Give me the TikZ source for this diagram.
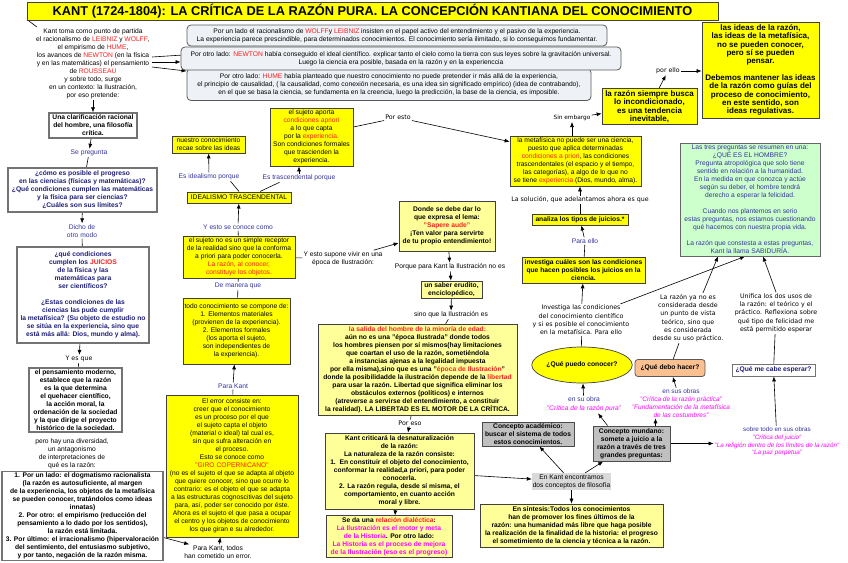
\documentclass[tikz,border=0pt]{standalone}
\usepackage{fontspec}
\setmainfont{Liberation Sans}
\newfontfamily\vfam{DejaVu Sans}
\usetikzlibrary{arrows.meta,shapes.geometric,backgrounds}
\definecolor{kred}{RGB}{255,30,30}
\definecolor{kblue}{RGB}{51,51,160}
\definecolor{knavy}{RGB}{30,30,120}
\definecolor{kmag}{RGB}{255,0,255}
\definecolor{kyel}{RGB}{255,255,0}
\definecolor{klyel}{RGB}{255,255,153}
\definecolor{kgrey}{RGB}{238,242,246}
\definecolor{kgreen}{RGB}{204,255,204}
\definecolor{kpeach}{RGB}{250,192,143}
\definecolor{kconc}{RGB}{192,192,192}
\definecolor{kbg}{RGB}{217,217,217}
\newcommand{\fs}{\fontsize{6.7}{8}\selectfont}
\newcommand{\fbig}{\fontsize{8}{8.4}\selectfont\bfseries}
\newcommand{\vs}{\vfam\fontsize{6.3}{8.3}\selectfont}
\newcommand{\kr}[1]{\textcolor{kred}{#1}}
\newcommand{\km}[1]{\textcolor{kmag}{#1}}
\begin{document}
\begin{tikzpicture}[x=1pt,y=-1pt,
 every node/.style={align=center, inner sep=1pt, font=\fs},
 box/.style={draw=black!75, line width=0.7pt, inner sep=1.5pt},
 ybox/.style={box, fill=kyel},
 lbox/.style={box, fill=klyel, font=\fs\bfseries},
 wbox/.style={draw=black!55, line width=1.2pt, fill=white, font=\fs\bfseries, inner sep=1.5pt},
 gbox/.style={draw=black!65, line width=0.8pt, fill=kgrey, rounded corners=4pt},
 cbox/.style={draw=black!70, line width=0.9pt, fill=kconc, font=\fs\bfseries},
 lab/.style={text=kblue},
 vtxt/.style={font=\vs},
 arr/.style={-{Latex[length=5pt,width=4pt]}, line width=0.6pt},
 con/.style={line width=0.6pt}]
\useasboundingbox (0,0) rectangle (848,562);

% title
\node[ybox, minimum width=691pt, minimum height=18pt, font=\fontsize{12.8}{14}\selectfont\bfseries] (title) at (372.5,11.5) {KANT (1724-1804): LA CRÍTICA DE LA RAZÓN PURA. LA CONCEPCIÓN KANTIANA DEL CONOCIMIENTO};
\coordinate (tk) at (37,27);

% left column
\node (kant) at (93,64) {Kant toma como punto de partida\\el racionalismo de \kr{LEIBNIZ} y \kr{WOLFF},\\el empirismo de \kr{HUME},\\los avances de \kr{NEWTON} (en la física\\y en las matemáticas) el pensamiento\\de \kr{ROUSSEAU}\\y sobre todo, surge\\en un contexto: la Ilustración,\\por eso pretende:};
\coordinate (k1) at (152,57);
\coordinate (k2) at (152,62);
\coordinate (k3) at (152,67);

\node[gbox, minimum width=420pt, minimum height=21pt] (g1) at (397,35.5) {Por un lado el racionalismo de \kr{WOLFF}y \kr{LEIBNIZ} insisten en el papel activo del entendimiento y el pasivo de la experiencia.\\La experiencia parece prescindible, para determinados conocimientos. El conocimiento sería ilimitado, si lo conseguimos fundamentar.};
\node[gbox, minimum width=404pt, minimum height=32pt] (g3) at (389,84.5) {\rule{0pt}{5pt}Por otro lado: \kr{HUME} había planteado que nuestro conocimiento no puede pretender ir más allá de la experiencia,\\el principio de causalidad, ( la causalidad, como conexión necesaria, es una idea sin significado empírico) (idea de contrabando),\\en el que se basa la ciencia, se fundamenta en la creencia, luego la predicción, la base de la ciencia, es imposible.};
\node[gbox, minimum width=440pt, minimum height=23pt] (g2) at (401,58.5) {Por otro lado: \kr{NEWTON} había conseguido el ideal científico. explicar tanto el cielo como la tierra con sus leyes sobre la gravitación universal.\\Luego la ciencia era posible, basada en la razón y en la experienccia};

\node[wbox, minimum width=88pt, minimum height=25pt] (clar) at (93,125.5) {Una clarificación racional\\del hombre, una filosofía\\crítica.};
\node[lab] (sep) at (89,153) {Se pregunta};
\node[wbox, text=knavy, minimum width=149pt, minimum height=44pt] (q1) at (82.5,190) {¿cómo es posible el progreso\\en las ciencias (físicas y matemáticas)?\\¿Qué condiciones cumplen las matemáticas\\y la física para ser ciencias?\\¿Cuáles son sus límites?};
\node[lab] (dicho) at (82,231) {Dicho de\\otro modo};
\node[wbox, text=knavy, minimum width=132pt, minimum height=96pt] (q2) at (83,295) {¿qué condiciones\\cumplen los \kr{JUICIOS}\\de la física y las\\matemáticas para\\ser científicos?\\[8pt]¿Estas condiciones de las\\ciencias las pude cumplir\\la metafísica? (Su objeto de estudio no\\se sitúa en la experiencia, sino que\\está más allá: Dios, mundo y alma).};
\node[vtxt] (yes) at (79,359) {Y es que};
\node[wbox, minimum width=93pt, minimum height=64pt] (pens) at (75.5,400) {el pensamiento moderno,\\establece que la razón\\es la que determina\\el quehacer científico,\\la acción moral, la\\ordenación de la sociedad\\y la que dirige el proyecto\\histórico de la sociedad.};
\node (pero) at (72,454) {pero hay una diversidad,\\un antagonismo\\de interpretaciones de\\qué es la razón:};
\node[wbox, minimum width=161pt, minimum height=88pt] (tres) at (82.5,516) {1. Por un lado: el dogmatismo racionalista\\(la razón es autosuficiente, al margen\\de la experiencia, los objetos de la metafísica\\se pueden conocer, tratándolos como ideas\\innatas)\\2. Por otro: el empirismo (reducción del\\pensamiento a lo dado por los sentidos),\\la razón está limitada.\\3. Por último: el irracionalismo (hipervaloración\\del sentimiento, del entusiasmo subjetivo,\\y por tanto, negación de la razón misma.};
\node (todos) at (218,552) {Para Kant, todos\\han cometido un error.};

% second column
\node[ybox, minimum width=132pt, minimum height=142pt] (error) at (232,466) {El error consiste en:\\creer que el conocimiento\\es un proceso por el que\\el sujeto capta el objeto\\(material o ideal) tal cual es,\\sin que sufra alteración en\\el proceso.\\Esto se conoce como\\\kr{"GIRO COPERNICANO"}\\(no es el sujeto el que se adapta al objeto\\que quiere conocer, sino que ocurre lo\\contrario: es el objeto el que se adapta\\a las estructuras cognoscitivas del sujeto\\para, así, poder ser conocido por éste.\\Ahora es el sujeto el que pasa a ocupar\\el centro y los objetos de conocimiento\\los que giran e su alrededor.};
\node[lab] (parak) at (233,386) {Para Kant};
\node[ybox, minimum width=107pt, minimum height=66pt] (todo) at (236.5,331) {todo conocimiento se compone de:\\1. Elementos materiales\\(provienen de la experiencia).\\2. Elementos formales\\(los aporta el sujeto,\\son independientes de\\la experiencia).};
\node[lab] (demanera) at (238,286) {De manera que};
\node[ybox, minimum width=112pt, minimum height=42pt] (sujeto) at (239,257) {el sujeto no es un simple receptor\\de la realidad sino que la conforma\\a priori para poder conocerla.\\\kr{La razón, al conocer,}\\\kr{constituye los objetos.}};
\node[lab] (yesto) at (238,227) {Y esto se conoce como};
\node[ybox, line width=1pt, minimum width=104pt, minimum height=11pt, inner sep=0.5pt] (ideal) at (239,197.5) {IDEALISMO TRASCENDENTAL};
\node[lab] (esideal) at (209,177) {Es idealismo porque};
\node[lab] (estrasc) at (299,178) {Es trascendental porque};
\node[ybox, minimum width=73pt, minimum height=17pt, inner sep=0.5pt] (nuestro) at (208.5,144.5) {nuestro conocimiento\\recae sobre las ideas};
\node[ybox, minimum width=83pt, minimum height=58pt] (aporta) at (311.5,137) {el sujeto aporta\\\kr{condiciones apriori}\\a lo que capta\\por la \kr{experiencia.}\\Son condiciones formales\\que trascienden la\\experiencia.};
\node[vtxt] (poresto) at (398,117) {Por esto};

% middle column
\node (yestosup) at (343,258.5) {Y esto supone vivir en una\\época de Ilustración:};
\node[lbox, minimum width=96pt, minimum height=50pt] (donde) at (447,226) {Donde se debe dar lo\\que expresa el lema:\\\kr{"Sapere aude"}\\¡Ten valor para servirte\\de tu propio entendimiento!};
\node (porque) at (450,267) {Porque para Kant la Ilustración no es};
\node[lbox, minimum width=61pt, minimum height=17pt, inner sep=0.5pt] (erudito) at (451.5,289.5) {un saber erudito,\\enciclopédico,};
\node (sinoque) at (451,315) {sino que la Ilustración es};
\node[lbox, minimum width=199pt, minimum height=91pt] (salida) at (417.5,369.5) {\kr{la salida del hombre de la minoría de edad:}\\aún no es una "época Ilustrada" donde todos\\los hombres piensen por sí mismos(hay limitaciones\\que coartan el uso de la razón, sometiéndola\\a instancias ajenas a la legalidad impuesta\\por ella misma),sino que es una "\kr{época de Ilustración}"\\donde la posibilidadde la ilustración depende de la \kr{libertad}\\para usar la razón. Libertad que significa eliminar los\\obstáculos externos (políticos) e internos\\(atreverse a servirse del entendimiento, a constituir\\la realidad). LA LIBERTAD ES EL MOTOR DE LA CRÍTICA.};
\node[vtxt] (poreso) at (410,423) {Por eso};
\node[lbox, minimum width=149pt, minimum height=76pt] (criticara) at (399.5,471) {Kant criticará la desnaturalización\\de la razón:\\La naturaleza de la razón consiste:\\1.\ \ En constituir el objeto del conocimiento,\\conformar la realidad,a priori, para poder\\conocerla.\\2. La razón regula, desde sí misma, el\\comportamiento, en cuanto acción\\moral y libre.};
\node[lbox, minimum width=126pt, minimum height=41pt] (dialectica) at (389,536.5) {Se da una \kr{relación dialéctica}:\\\km{La Ilustración es el motor y meta}\\\km{de la Historia}. Por otro lado:\\\km{La Historia es el proceso de mejora}\\\km{de la Ilustración (eso es el progreso)}};

% right middle
\node[ybox, minimum width=131pt, minimum height=50pt] (meta) at (575.5,161) {la metafísica no puede ser una ciencia,\\puesto que aplica determinadas\\\kr{condiciones a priori}, las condiciones\\trascendentales (el espacio y el tiempo,\\las categorías), a algo de lo que no\\se tiene \kr{experiencia} (Dios, mundo, alma).};
\node[vtxt, font=\vfam\fontsize{5.8}{7}\selectfont] (sinemb) at (572,118) {Sin embargo};
\node[ybox, font=\fbig, minimum width=95pt, minimum height=35pt] (busca) at (649.5,106.5) {la razón siempre busca\\lo incondicionado,\\es una tendencia\\inevitable,};
\node[vtxt] (porello) at (668,71) {por ello};
\node[ybox, font=\fbig, minimum width=117pt, minimum height=96pt] (ideas) at (760.5,70) {las ideas de la razón,\\las ideas de la metafísica,\\no se pueden conocer,\\pero sí se pueden\\pensar.\\[8pt]Debemos mantener las ideas\\de la razón como guías del\\proceso de conocimiento,\\en este sentido, son\\ideas regulativas.};
\node[vtxt] (sol) at (580,200) {La solución, que adelantamos ahora es que};
\node[ybox, font=\fs\bfseries, minimum width=96pt, minimum height=11pt, inner sep=0.5pt] (analiza) at (580,219.5) {analiza los tipos de juicios.*};
\node[lab] (paraello) at (585,241) {Para ello};
\node[ybox, font=\fs\bfseries, minimum width=123pt, minimum height=26pt] (investiga) at (583.5,270) {investiga cuáles son las condiciones\\que hacen posibles los juicios en la\\ciencia.};
\node[vtxt] (invtext) at (581,320) {Investiga las condiciones\\del conocimiento científico\\y si es posible el conocimiento\\en la metafísica. Para ello};
\node[ellipse, draw=black!75, line width=0.7pt, fill=kyel, font=\fs\bfseries, minimum width=85pt, minimum height=36pt, inner sep=0pt] (puedo) at (582,365) {¿Qué puedo conocer?};
\node[font=\fontsize{6.7}{9}\selectfont] (ensuobra) at (584,404.5) {\textcolor{kblue}{en su obra}\\\textcolor{kmag}{\itshape "Crítica de la razón pura"}};

% right column
\node[draw=black!60, line width=0.8pt, fill=kgreen, text=kblue, minimum width=140pt, minimum height=113pt] (green) at (750,199.5) {Las tres preguntas se resumen en una:\\¿QUÉ ES EL HOMBRE?\\Pregunta atropológica que solo tiene\\sentido en relación a la humanidad.\\En la medida en que conozca y actúe\\según su deber, el hombre tendrá\\derecho a esperar la felicidad.\\[8pt]Cuando nos plantemos en serio\\estas preguntas, nos estamos cuestionando\\qué hacemos con nuestra propia vida.\\[8pt]La razón que constesta a estas preguntas,\\Kant la llama SABIDURÍA.};
\node[vtxt] (razonya) at (688,318) {La razón ya no es\\considerada desde\\un punto de vista\\teórico, sino que\\es considerada\\desde su uso práctico.};
\node[vtxt] (unifica) at (776,313) {Unifica los dos usos de\\la razón: el teórico y el\\práctico. Reflexiona sobre\\qué tipo de felicidad me\\está permitido esperar};
\node[draw=black!65, line width=0.8pt, fill=kpeach, rounded corners=3pt, font=\fs\bfseries, minimum width=70pt, minimum height=17pt] (debo) at (670,368) {¿Qué debo hacer?};
\node[draw=black!55, line width=0.8pt, fill=white, text=knavy, font=\fs\bfseries, minimum width=83pt, minimum height=12pt, inner sep=0.5pt] (cabe) at (773.5,370) {¿Qué me cabe esperar?};
\node[font=\fontsize{6.5}{7.8}\selectfont] (ensusobras) at (681,403) {\textcolor{kblue}{en sus obras}\\\textcolor{kmag}{\itshape "Crítica de la razón práctica"}\\\textcolor{kmag}{\itshape "Fundamentación de la metafísica}\\\textcolor{kmag}{\itshape de las costumbres"}};
\node[font=\fontsize{6.3}{7.8}\selectfont] (sobretodo) at (777,441.5) {\textcolor{kblue}{sobre todo en sus obras}\\\textcolor{kmag}{\itshape "Crítica del juicio"}\\\textcolor{kmag}{\itshape "La religión dentro de los límites de la razón"}\\\textcolor{kmag}{\itshape "La paz perpetua"}};
\node[cbox, minimum width=77pt, minimum height=35pt] (mundano) at (631.5,443.5) {Concepto mundano:\\somete a juicio a la\\razón a través de tres\\grandes preguntas:};
\node[cbox, minimum width=92pt, minimum height=24pt] (academico) at (528,434) {Concepto académico:\\buscar el sistema de todos\\estos conocimientos.};
\node[fill=kbg, minimum width=79pt, minimum height=17pt, inner sep=0.5pt] (enkant) at (571.5,481.5) {En Kant encontramos\\dos conceptos de filosofía};
\node[lbox, minimum width=183pt, minimum height=43pt] (sintesis) at (571.5,525.5) {En síntesis:Todos los conocimientos\\han de promover los fines últimos de la\\razón: una humanidad más libre que haga posible\\la realización de la finalidad de la historia: el progreso\\el sometimiento de la ciencia y técnica a la razón.};

\begin{scope}[on background layer]
\fill[white] (0,0) rectangle (848,562);
\draw[con] ([xshift=2pt]title.south west) -- (tk);
\draw[con] (k1) -- ([xshift=6pt,yshift=-8pt]g1.south west);
\draw[arr] (k2) -- (g2.west |- k2);
\draw[arr] (k3) -- ([yshift=-3pt]g3.north west);
\draw[arr] (kant) -- (clar);
\draw[arr] (clar) -- (sep);
\draw[con] (sep) -- (q1);
\draw[arr] (q1) -- (dicho);
\draw[con] (dicho) -- (q2);
\draw[arr] (q2) -- (yes);
\draw[con] (yes) -- (pens);
\draw[arr] (tres) -- (todos);
\draw[arr] (todos) -- (error);
\draw[con] (error) -- (parak);
\draw[arr] (parak) -- (todo);
\draw[con] (sujeto) -- (demanera);
\draw[con] (demanera) -- (todo);
\draw[con] (sujeto) -- (yesto);
\draw[arr] (yesto) -- (ideal);
\draw[con] (ideal.north) -- ([xshift=-10pt]esideal.south east);
\draw[arr] (esideal) -- (nuestro);
\draw[con] ([xshift=21pt]ideal.north) -- ([xshift=18pt]estrasc.south west);
\draw[arr] (estrasc.north) -- (estrasc.north |- aporta.south);
\draw[con] ([yshift=10pt]aporta.east) -- (poresto.south west);
\draw[arr] (poresto.south east) -- ([yshift=-6pt]meta.north west);
\draw[arr] (meta.north -| sinemb) -- (sinemb);
\draw[arr] (sinemb) -- (busca);
\draw[arr] (busca) -- (porello);
\draw[arr] (porello) -- (ideas.west |- porello);
\draw[arr] (sol) -- (meta.south -| sol);
\draw[con] (sol) -- (analiza);
\draw[con] (investiga) -- (paraello);
\draw[arr] (paraello) -- (analiza);
\draw[arr] (invtext) -- (investiga);
\draw[con] (invtext) -- (puedo);
\draw[arr] ([xshift=-10pt]invtext.north east) -- ([xshift=-5pt]green.south);
\draw[arr] ([xshift=15pt]razonya.north) -- ([xshift=-32pt]green.south);
\draw[arr] (unifica.north) -- ([xshift=13pt]green.south);
\draw[con] (razonya) -- (debo);
\draw[con] (unifica) -- (cabe);
\draw[arr] (ensuobra) -- (puedo);
\draw[arr] (ensusobras) -- (debo);
\draw[arr] (sobretodo) -- (cabe);
\draw[arr] ([xshift=15pt]mundano.north west) -- ([xshift=14pt]ensuobra.south);
\draw[arr] ([xshift=24pt]mundano.north) -- ([xshift=24pt]mundano.north |- ensusobras.south);
\draw[arr] (mundano.east) -- (sobretodo.west |- mundano.east);
\draw[arr] (enkant) -- (academico);
\draw[arr] (enkant) -- (mundano);
\draw[arr] (enkant) -- (sintesis);
\draw[arr] (criticara) -- (enkant);
\draw[con] (salida) -- (poreso);
\draw[arr] (poreso) -- (criticara);
\draw[arr] ([xshift=-4pt]criticara.south) -- ([xshift=6pt]dialectica.north);
\draw[con] (sujeto) -- (yestosup);
\draw[arr] ([xshift=-10pt]yestosup.north east) -- ([yshift=-17pt]donde.west);
\draw[arr] (donde) -- (porque);
\draw[arr] (porque) -- (erudito);
\draw[arr] (erudito) -- (sinoque);
\draw[con] (sinoque) -- (salida);
\end{scope}
\end{tikzpicture}
\end{document}
